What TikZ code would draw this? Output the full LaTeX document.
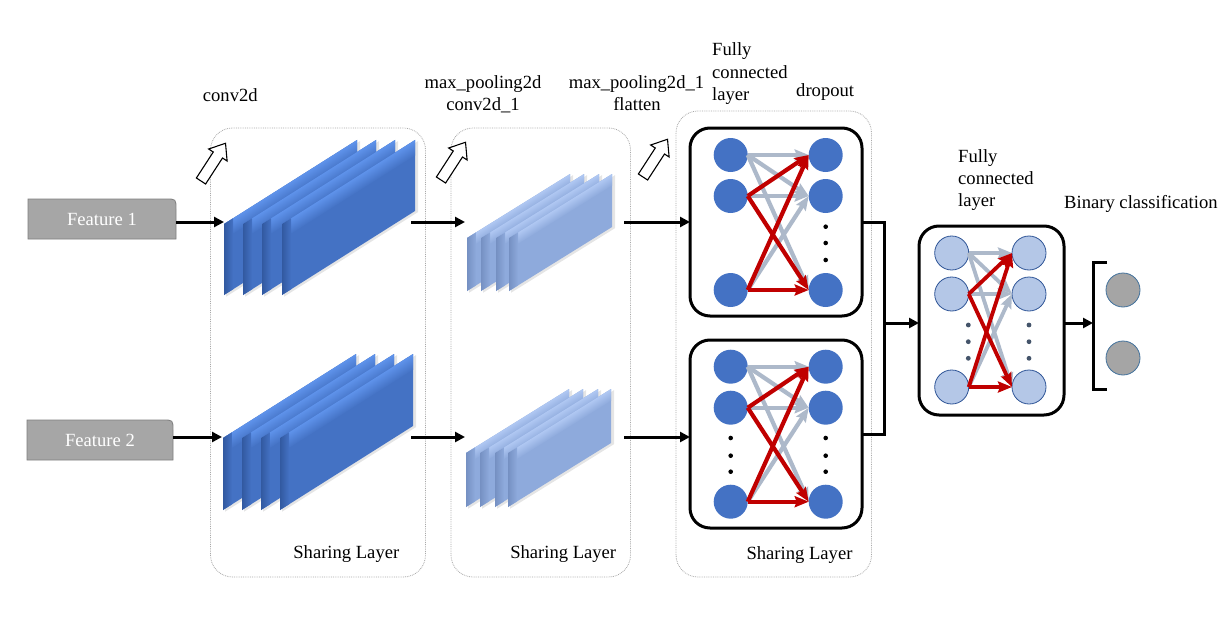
\documentclass[tikz,border=0pt]{standalone}
\usepackage{fontspec}
\setmainfont{Liberation Serif}
\usetikzlibrary{arrows.meta,calc}
\definecolor{convB}{HTML}{4472C4}
\definecolor{convL}{HTML}{5E92EA}
\definecolor{convD}{HTML}{3259A0}
\definecolor{poolB}{HTML}{8EAADC}
\definecolor{poolL}{HTML}{AFC7F2}
\definecolor{poolD}{HTML}{7590C2}
\definecolor{featG}{HTML}{A6A6A6}
\definecolor{featE}{HTML}{7F7F7F}
\definecolor{edgeG}{HTML}{ADB9CA}
\definecolor{edgeR}{HTML}{C00000}
\definecolor{nodeL}{HTML}{B4C7E7}
\definecolor{nodeLE}{HTML}{2F5597}
\definecolor{outG}{HTML}{A5A5A5}
\definecolor{outE}{HTML}{41719C}
\definecolor{dotB}{HTML}{44546A}
\definecolor{boxG}{HTML}{A8A8A8}
\newcommand{\myslab}[6]{%
\begin{scope}[transform canvas={shift={(#1,#2)},yslant=#5}]
\fill[black,opacity=0.10] (2,3) rectangle ({#3+3},{#4+3});
\fill[#6B] (0,0) rectangle (#3,#4);
\shade[top color=#6L, bottom color=#6B] (0,0) rectangle (#3,{0.22*#4});
\shade[left color=#6D, right color=#6B] (0,0) rectangle (9,#4);
\end{scope}}
\newcommand{\hollowarrow}[2]{%
\draw[line width=1.1pt, fill=white, shift={(#1,#2)}, rotate=57]
 (0,-5.5) -- (31,-5.5) -- (31,-11) -- (45,0) -- (31,11) -- (31,5.5) -- (0,5.5) -- cycle;}
\newcommand{\fcedges}[2]{%
\draw[gedge,#2] (#1l1.east) -- (#1r1.west);
\draw[gedge,#2] (#1l1.east) -- (#1r2.west);
\draw[gedge,#2] (#1l1.east) -- (#1r3.west);
\draw[gedge,#2] (#1l2.east) -- (#1r2.west);
\draw[gedge,#2] (#1l3.east) -- (#1r2.west);
\draw[redge,#2] (#1l2.east) -- (#1r1.west);
\draw[redge,#2] (#1l2.east) -- (#1r3.west);
\draw[redge,#2] (#1l3.east) -- (#1r1.west);
\draw[redge,#2] (#1l3.east) -- (#1r3.west);}
\begin{document}
\begin{tikzpicture}[x=1pt,y=-1pt,
  lbl/.style={font=\fontsize{18.6}{22}\selectfont, inner sep=0pt},
  sharebox/.style={draw=boxG, densely dotted, line width=0.8pt, rounded corners=22pt},
  fcbox/.style={draw=black, line width=3pt, rounded corners=20pt, inner sep=0pt, outer sep=0pt},
  dneuron/.style={circle, fill=convB, minimum size=34pt, inner sep=0pt, outer sep=0pt},
  lneuron/.style={circle, fill=nodeL, draw=nodeLE, line width=0.8pt, minimum size=34pt, inner sep=0pt, outer sep=0pt},
  oneuron/.style={circle, fill=outG, draw=outE, line width=0.8pt, minimum size=34pt, inner sep=0pt, outer sep=0pt},
  gedge/.style={draw=edgeG, line width=4.2pt, -{Stealth[length=14pt,width=11pt,inset=2pt]}},
  redge/.style={draw=edgeR, line width=4.2pt, -{Stealth[length=14pt,width=11pt,inset=2pt]}},
  blk/.style={line width=3pt, -{Triangle[length=10pt,width=10pt]}},
  blkline/.style={line width=3pt},
  featbox/.style={fill=featG, draw=featE, line width=0.8pt}
]
\useasboundingbox (0,0) rectangle (1231,626);
\fill[white] (0,0) rectangle (1231,626);

% sharing layer boxes
\draw[sharebox] (210.5,128) rectangle (425.5,577);
\draw[sharebox] (451,128) rectangle (630.5,577);
\draw[sharebox] (676,111) rectangle (871.5,577);

% feature boxes
\path[featbox] (28,239) -- (28,199) -- (166,199) .. controls (176,199) .. (176,209) -- (176,239) -- cycle;
\node[lbl, text=white, minimum width=148pt, minimum height=40pt] (f1) at (102,219) {Feature 1};
\path[featbox] (27,460) -- (27,420) -- (163,420) .. controls (173,420) .. (173,430) -- (173,460) -- cycle;
\node[lbl, text=white, minimum width=146pt, minimum height=40pt] (f2) at (100,440) {Feature 2};

% conv stacks
\foreach \xx in {224,243,262,282} {\myslab{\xx}{224}{133}{71}{0.6316}{conv}}
\foreach \xx in {223,242,261,280} {\myslab{\xx}{438}{133}{72}{0.6316}{conv}}
% pooling stacks
\foreach \xx in {467,481,496,509} {\myslab{\xx}{238}{103}{53}{0.621}{pool}}
\foreach \xx in {466,480,495,508} {\myslab{\xx}{453}{103}{54}{0.621}{pool}}

% hollow arrows
\hollowarrow{201}{181}
\hollowarrow{441}{180}
\hollowarrow{643}{177}

% coordinates
\coordinate (c1in) at (224,222);
\coordinate (c1out) at (411,222);
\coordinate (p1in) at (465,222);
\coordinate (p1out) at (624,222);
\coordinate (c2in) at (222,437);
\coordinate (c2out) at (411,437);
\coordinate (p2in) at (465,437);
\coordinate (p2out) at (624,437);

% FC blocks
\node[fcbox, minimum width=172pt, minimum height=188pt] (fcA) at (776,222) {};
\node[fcbox, minimum width=172pt, minimum height=188pt] (fcB) at (776,434) {};
\node[fcbox, minimum width=145pt, minimum height=189pt] (fcC) at (991.5,320.5) {};

% block A neurons
\node[dneuron] (al1) at (730.7,155) {};
\node[dneuron] (al2) at (730.7,196) {};
\node[dneuron] (al3) at (730.7,290) {};
\node[dneuron] (ar1) at (825.7,155) {};
\node[dneuron] (ar2) at (825.7,196) {};
\node[dneuron] (ar3) at (825.7,290) {};
\foreach \yy in {226.7,243,260} {\fill (825.7,\yy) circle (2.3pt);}
\fcedges{a}{}

% block B neurons
\node[dneuron] (bl1) at (730.7,366.7) {};
\node[dneuron] (bl2) at (730.7,407.7) {};
\node[dneuron] (bl3) at (730.7,501.7) {};
\node[dneuron] (br1) at (825.7,366.7) {};
\node[dneuron] (br2) at (825.7,407.7) {};
\node[dneuron] (br3) at (825.7,501.7) {};
\foreach \yy in {438,455.7,471.7} {\fill (730.7,\yy) circle (2.3pt); \fill (825.7,\yy) circle (2.3pt);}
\fcedges{b}{}

% block C neurons
\node[lneuron] (cl1) at (951.7,253) {};
\node[lneuron] (cl2) at (951.7,294) {};
\node[lneuron] (cl3) at (951.7,387) {};
\node[lneuron] (cr1) at (1029,253) {};
\node[lneuron] (cr2) at (1029,294) {};
\node[lneuron] (cr3) at (1029,387) {};
\foreach \yy in {325,341.7,358.3} {\fill[dotB] (968.3,\yy) circle (2.4pt); \fill[dotB] (1029,\yy) circle (2.4pt);}
\fcedges{c}{line width=3.8pt}

% output neurons and bracket
\node[oneuron] (o1) at (1123,290) {};
\node[oneuron] (o2) at (1123,358) {};
\coordinate (brk) at (1093,323);
\draw[blkline] (1107,262) -- (1093,262) -- (1093,389) -- (1107,389);

% black connectors
\draw[blk] (f1.east |- c1in) -- (c1in);
\draw[blk] (f2.east |- c2in) -- (c2in);
\draw[blk] (c1out) -- (p1in);
\draw[blk] (c2out) -- (p2in);
\draw[blk] (p1out) -- (fcA.west |- p1out);
\draw[blk] (p2out) -- (fcB.west |- p2out);
\coordinate (j) at (884,323);
\draw[blkline] (fcA.east) -| (j);
\draw[blkline] (fcB.east) -| (j);
\draw[blk] (j) -- (fcC.west |- j);
\draw[blk] (fcC.east |- j) -- (brk);

% labels
\node[lbl, anchor=base west] (tconv) at (202.7,101) {conv2d};
\node[lbl, anchor=base] (tmp1) at (483,88.3) {max\_pooling2d};
\node[lbl, anchor=base] (tconv1) at (483,110) {conv2d\_1};
\node[lbl, anchor=base] (tmp2) at (636.5,88.3) {max\_pooling2d\_1};
\node[lbl, anchor=base] (tflat) at (637,110) {flatten};
\node[lbl, anchor=base west] (tfa1) at (712,56) {Fully};
\node[lbl, anchor=base west] (tfa2) at (712,78.3) {connected};
\node[lbl, anchor=base west] (tfa3) at (712,100) {layer};
\node[lbl, anchor=base west] (tdrop) at (796,96.7) {dropout};
\node[lbl, anchor=base west] (tfc1) at (958,162.7) {Fully};
\node[lbl, anchor=base west] (tfc2) at (958,184.3) {connected};
\node[lbl, anchor=base west] (tfc3) at (958,206.7) {layer};
\node[lbl, anchor=base west] (tbin) at (1064,208.3) {Binary classification};
\node[lbl, anchor=base] (ts1) at (346.3,558.3) {Sharing Layer};
\node[lbl, anchor=base] (ts2) at (563.2,558.8) {Sharing Layer};
\node[lbl, anchor=base] (ts3) at (799.5,559) {Sharing Layer};
\end{tikzpicture}
\end{document}
